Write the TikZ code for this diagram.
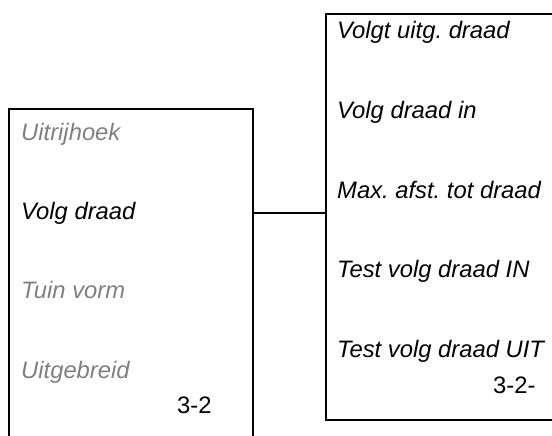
\documentclass[tikz,border=0pt]{standalone}
\usepackage{fontspec}
\setmainfont{Liberation Sans}
\definecolor{greytxt}{HTML}{808080}
\frenchspacing
\begin{document}
\begin{tikzpicture}[x=1pt,y=-1pt,
  boxline/.style={draw=black,line width=1.9pt},
  item/.style={anchor=base west,inner sep=0pt,font=\fontsize{23.8}{28}\selectfont\itshape},
  dim/.style={text=greytxt},
  pagenum/.style={anchor=base west,inner sep=0pt,font=\fontsize{23.8}{28}\selectfont}]
\useasboundingbox (0,0) rectangle (552,436);
\clip (0,0) rectangle (552,436);
% boxes (open beyond the picture edge)
\node[boxline,anchor=north west,minimum width=244pt,minimum height=360pt,inner sep=0pt] (lbox) at (8,108) {};
\node[boxline,anchor=north west,minimum width=260pt,minimum height=406pt,inner sep=0pt] (rbox) at (325,13) {};
% left menu
\node[item,dim] (l1) at (21,140) {Uitrijhoek};
\node[item] (l2) at (21,219) {Volg draad};
\node[item,dim] (l3) at (21,298) {Tuin vorm};
\node[item,dim] (l4) at (21,378) {Uitgebreid};
\node[pagenum] (lnum) at (177,413) {3-2};
% right menu
\node[item] (r1) at (337,39) {Volgt uitg.\ draad};
\node[item] (r2) at (337,118.5) {Volg draad in};
\node[item] (r3) at (337,198) {Max.\ afst.\ tot draad};
\node[item] (r4) at (337,277.5) {Test volg draad IN};
\node[item] (r5) at (337,357) {Test volg draad UIT};
\node[pagenum] (rnum) at (493,393) {3-2-};
% connector
\coordinate (cy) at (0,213);
\draw[line width=1.9pt] (lbox.east |- cy) -- (rbox.west |- cy);
\end{tikzpicture}
\end{document}
